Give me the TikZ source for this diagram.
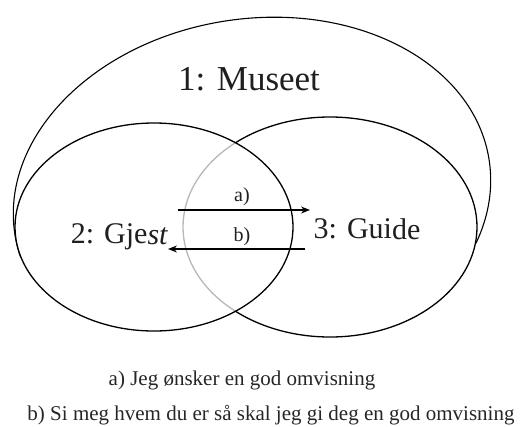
\documentclass[tikz,border=0pt]{standalone}
\usepackage{fontspec}
\setmainfont{Liberation Serif}
\usetikzlibrary{arrows.meta}
\begin{document}
\begin{tikzpicture}[x=1pt,y=-1pt,
  ring/.style={line width=1.3pt, draw=black},
  title/.style={inner sep=0pt, anchor=base, text=black!88, font=\fontsize{35}{40}\selectfont},
  role/.style={inner sep=0pt, anchor=base, text=black!88, font=\fontsize{30}{34}\selectfont},
  tag/.style={inner sep=0pt, text=black!88, font=\fontsize{20}{22}\selectfont},
  caption/.style={inner sep=0pt, anchor=base, text=black!85, font=\fontsize{21}{24}\selectfont},
  msg/.style={line width=1.2pt, -{Stealth[length=9pt,width=7pt]}}]
\useasboundingbox (0,0) rectangle (521,426);
% outer ellipse (museum)
\begin{scope}
  \clip (0,0) -- (521,0) -- (521,242) -- (0,258) -- cycle;
  \draw[line width=1.1pt, rotate around={9:(252,197)}] (252,197) ellipse [x radius=240pt, y radius=178pt];
\end{scope}
% guide ellipse
\draw[ring, fill=white] (330,227) ellipse [x radius=147pt, y radius=110pt];
% guest ellipse (semi-transparent so the guide edge shows grey)
\fill[white, fill opacity=0.72] (154,227) ellipse [x radius=139pt, y radius=104pt];
\draw[ring] (154,227) ellipse [x radius=139pt, y radius=104pt];
% labels
\node[title] (museet) at (249,90) {1: Museet};
\node[role] (gjest) at (119.5,243) {2: Gje\raisebox{-1.5pt}{\textit{st}}};
\node[role] (guide) at (367,238) {3: Gui\raisebox{-1.5pt}{de}};
% messages
\coordinate (a1) at (178,210);
\coordinate (a2) at (310,210);
\coordinate (b1) at (305,249);
\coordinate (b2) at (168,249);
\draw[msg] (a1) -- (a2);
\draw[msg] (b1) -- (b2);
\node[tag] (la) at (242,197) {a)};
\node[tag] (lb) at (242,237) {b)};
% captions
\node[caption] (capa) at (242,385) {a) Jeg ønsker en god omvisning};
\node[caption] (capb) at (271,420) {b) Si meg hvem du er så skal jeg gi deg en god omvisning};
\end{tikzpicture}
\end{document}
